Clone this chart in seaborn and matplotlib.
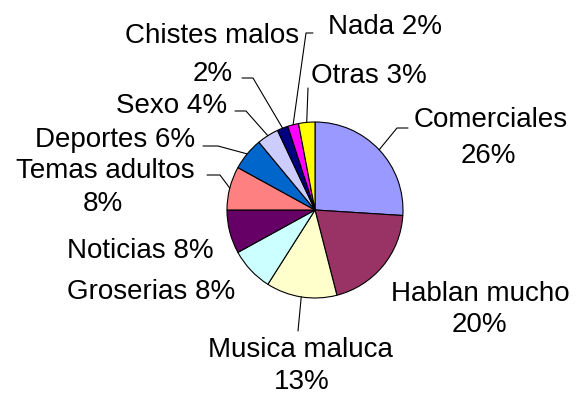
import matplotlib
matplotlib.use("Agg")
import numpy as np
import matplotlib.pyplot as plt
import seaborn as sns

# Encuesta: lo que menos gusta de la radio
categorias = ["Comerciales", "Hablan mucho", "Musica maluca", "Groserias",
              "Noticias", "Temas adultos", "Deportes", "Sexo",
              "Chistes malos", "Nada", "Otras"]
porcentajes = [26, 20, 13, 8, 8, 8, 6, 4, 2, 2, 3]
colores = ["#9999FF", "#993366", "#FFFFCC", "#CCFFFF", "#660066", "#FF8080",
           "#0066CC", "#CCCCFF", "#000080", "#FF00FF", "#FFFF00"]

sns.set_theme(style="white")
plt.rcParams["font.family"] = ["Liberation Sans", "DejaVu Sans"]

W, H = 576, 396
FS = 20                      # label size in points
CAP = FS * 100 / 72 * 0.716  # cap height in pixels

fig = plt.figure(figsize=(W / 100, H / 100), dpi=100)
ax = fig.add_axes([0, 0, 1, 1])

cx, cy, r = 315, H - 210, 88
wedges, _ = ax.pie(porcentajes, colors=colores, startangle=90, counterclock=False,
                   center=(cx, cy), radius=r, frame=True,
                   wedgeprops=dict(edgecolor="black", linewidth=0.8))
ax.set_xlim(0, W)
ax.set_ylim(0, H)
ax.set_aspect("equal")
ax.axis("off")

# Label layout (pixels from the top-left): centre of the name line and,
# for two-line labels, centre of the value line.
linea_nombre = [(491, 117), (480, 291), (300, 347), (151, 289), (140, 248),
                (105, 168), (115, 137), (172, 103), (212, 33), (385, 24), (369, 73)]
linea_valor = [(488, 153), (479, 322), (302, 379), None, None,
               (103, 201), None, None, (213, 71), None, None]
# Leader lines: start next to the label and optional elbow, ending on the rim
guia = [((408, 128), (397, 128)), None, ((298, 331), None), None, None,
        ((207, 175), (220, 175)), ((203, 146), (218, 146)),
        ((235, 111), (246, 111)), ((242, 78), (253, 78)),
        ((313, 33), (306, 33)), ((308, 88), None)]


def rotulo(x, y, s):
    ax.text(x, H - (y + CAP / 2), s, ha="center", va="baseline",
            fontsize=FS, color="black")


for i, (cat, val) in enumerate(zip(categorias, porcentajes)):
    if linea_valor[i] is None:
        rotulo(*linea_nombre[i], f"{cat} {val}%")
    else:
        rotulo(*linea_nombre[i], cat)
        rotulo(*linea_valor[i], f"{val}%")
    if guia[i] is not None:
        w = wedges[i]
        mid = np.deg2rad((w.theta1 + w.theta2) / 2)
        ex, ey = cx + r * np.cos(mid), cy + r * np.sin(mid)
        (sx, sy), codo = guia[i]
        xs, ys = [sx], [H - sy]
        if codo is not None:
            xs.append(codo[0])
            ys.append(H - codo[1])
        xs.append(ex)
        ys.append(ey)
        ax.plot(xs, ys, color="black", linewidth=0.8)

fig.savefig("out.png", dpi=100, facecolor="white")
